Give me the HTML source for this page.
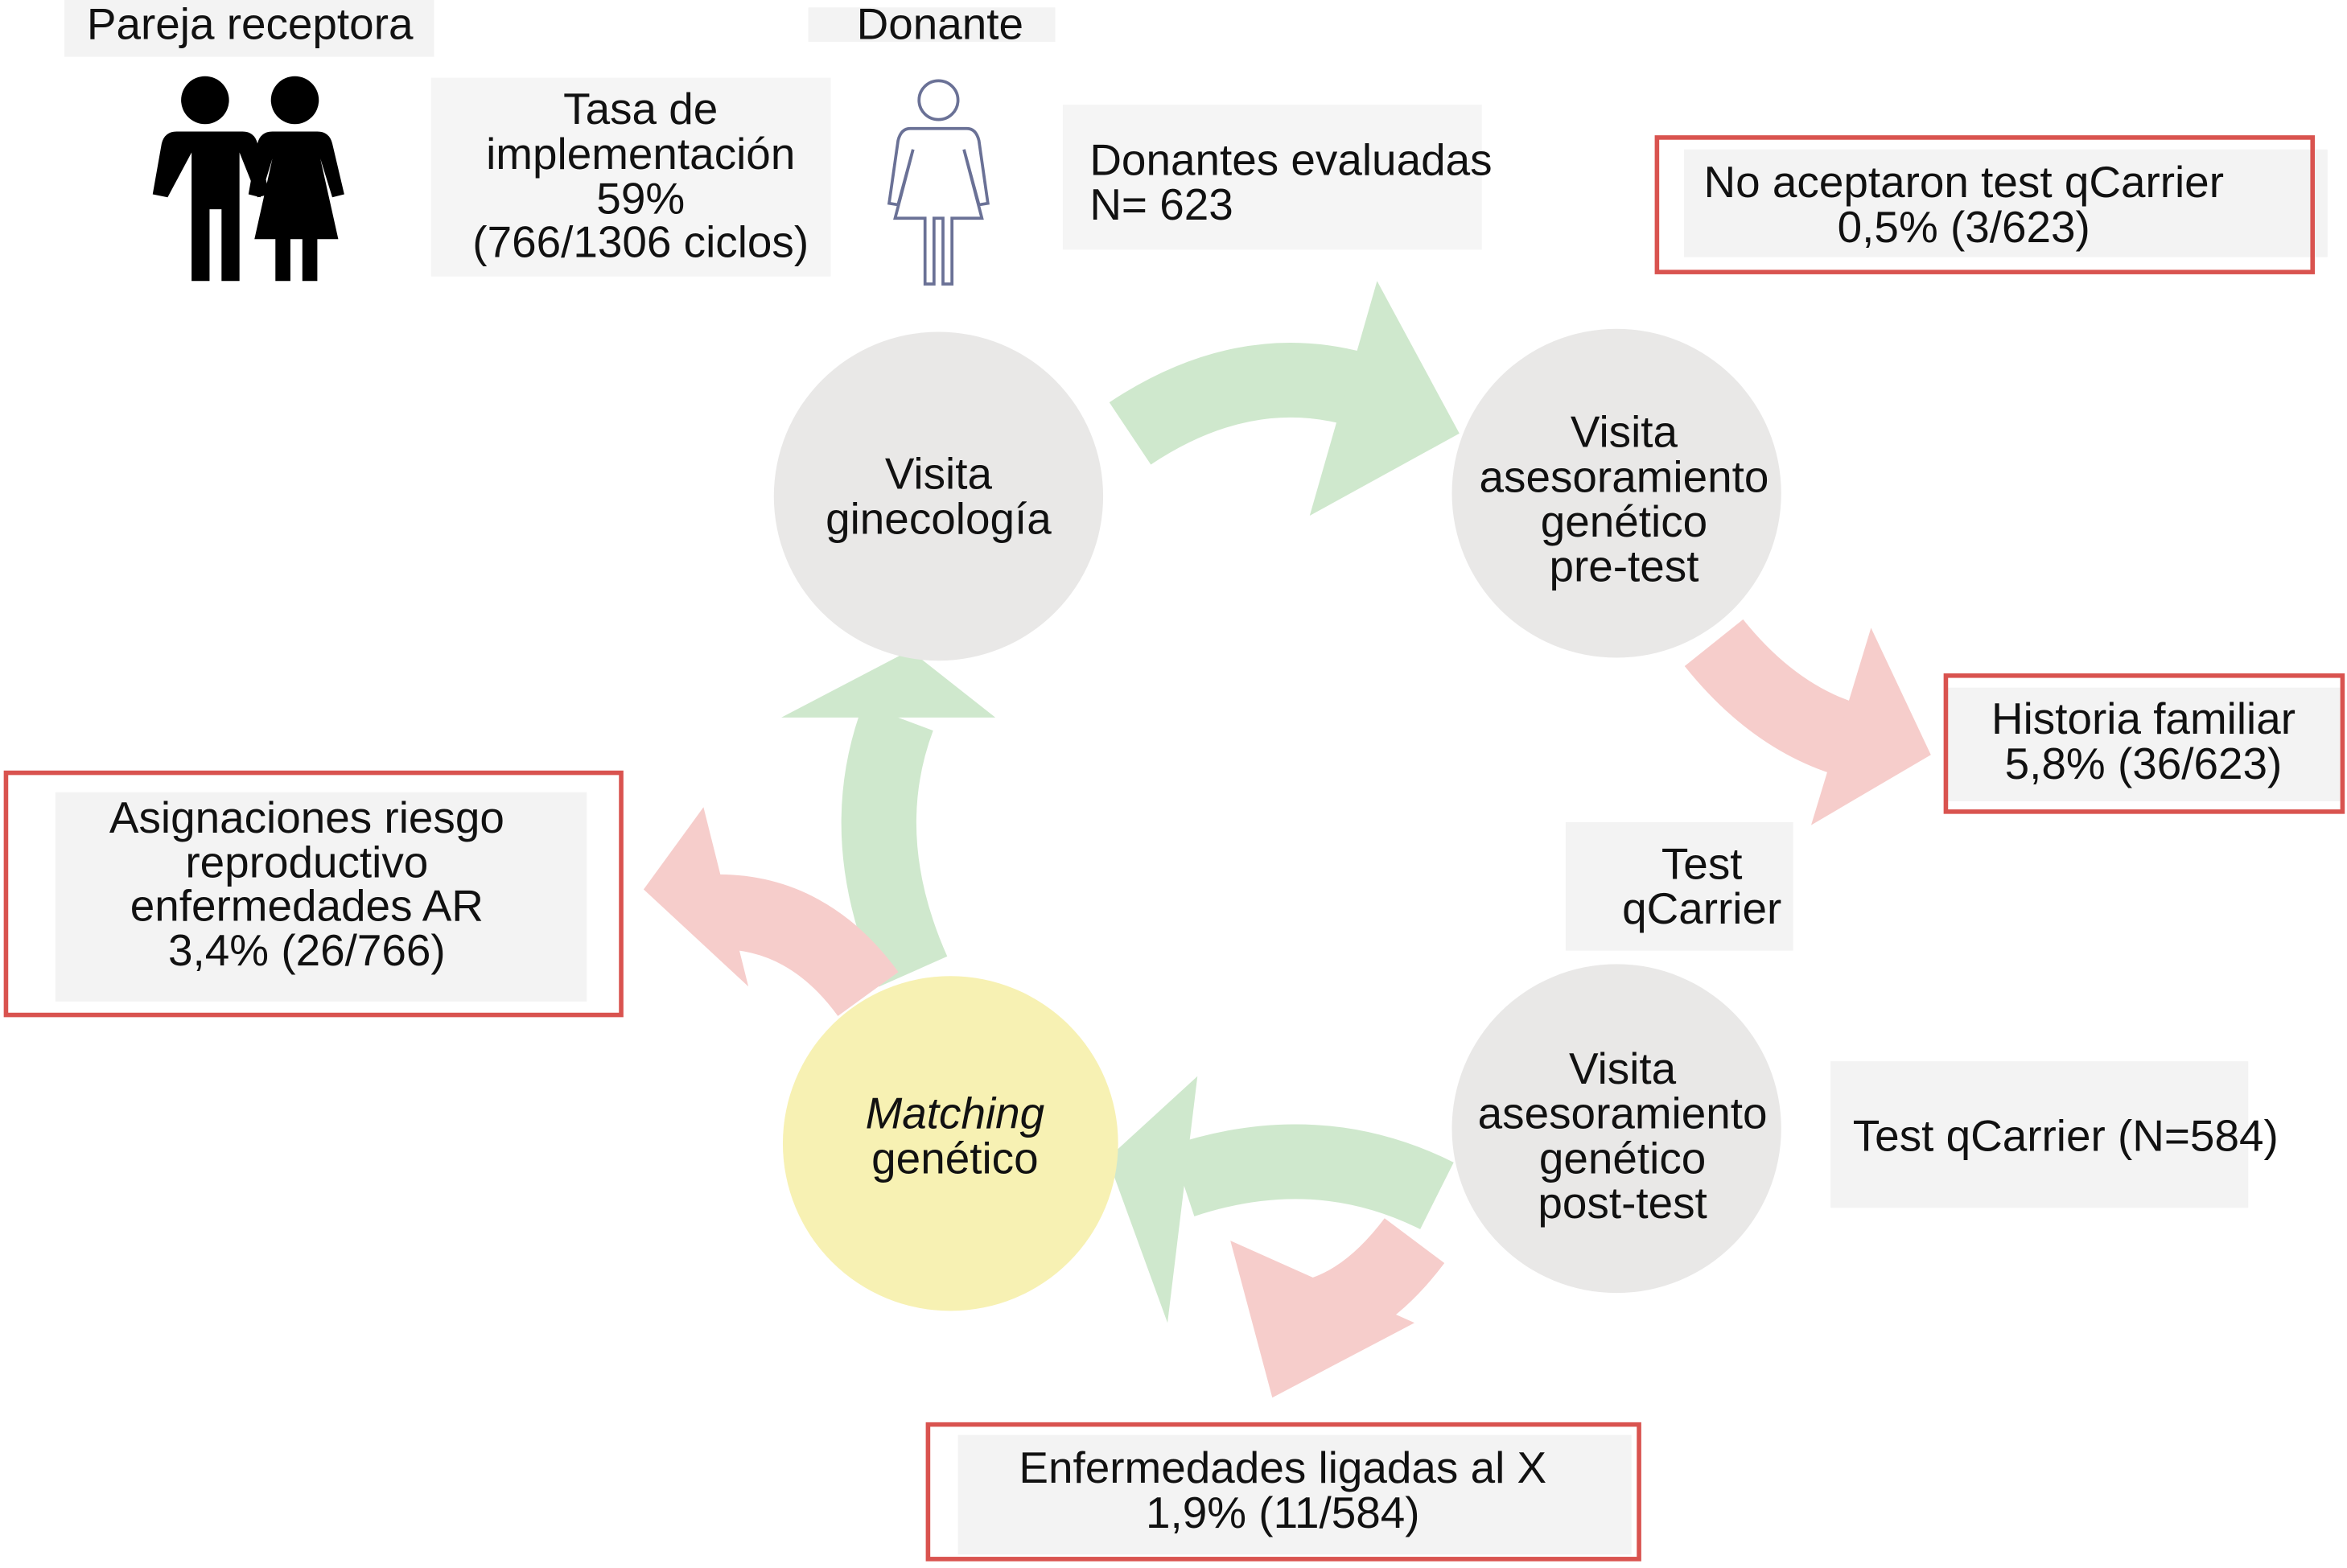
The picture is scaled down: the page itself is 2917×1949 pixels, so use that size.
<!DOCTYPE html>
<html><head><meta charset="utf-8"><style>
html,body{margin:0;padding:0;background:#fff;}
svg{display:block;}
text{font-family:"Liberation Sans",sans-serif;font-size:29.5px;fill:#111;}
</style></head><body>
<svg width="2917" height="1949" viewBox="0 0 1568 1049" preserveAspectRatio="none" xmlns="http://www.w3.org/2000/svg">
<rect width="1568" height="1049" fill="#fff"/>
<rect x="43" y="0" width="247" height="38" fill="#f3f3f3"/>
<text x="167" y="26" text-anchor="middle">Pareja receptora</text>
<rect x="540" y="5" width="165" height="23" fill="#f3f3f3"/>
<text x="628" y="26" text-anchor="middle">Donante</text>
<rect x="288" y="52" width="267" height="133" fill="#f5f5f5"/>
<text text-anchor="middle"><tspan x="428" y="83">Tasa de</tspan><tspan x="428" y="113">implementación</tspan><tspan x="428" y="143">59%</tspan><tspan x="428" y="172">(766/1306 ciclos)</tspan></text>
<rect x="710" y="70" width="280" height="97" fill="#f5f5f5"/>
<text><tspan x="728" y="117">Donantes evaluadas</tspan><tspan x="728" y="147">N= 623</tspan></text>
<g fill="#000">
<circle cx="137" cy="67" r="16"/><circle cx="197" cy="67" r="16"/>
<path d="M112 88 H162 Q170 88 172 96 L180 130 L172 132 L160 102 V188 H148 V140 H140 V188 H128 V102 L112 132 L102 130 L108 96 Q110 88 118 88Z"/>
<path d="M182 88 H212 Q220 88 222 96 L230 130 L222 132 L214 106 L226 160 H212 V188 H202 V160 H194 V188 H184 V160 H170 L182 106 L174 132 L166 130 L172 96 Q174 88 182 88Z"/>
</g>
<g fill="none" stroke="#6a7196" stroke-width="2">
<circle cx="627" cy="67" r="13"/>
<path d="M608 86 H646 Q652 86 654 94 L660 136 L654 137 L644 100 L656 146 H636 V190 H630 V146 H624 V190 H618 V146 H598 L610 100 L600 137 L594 136 L600 94 Q602 86 608 86Z"/>
</g>
<rect x="1125" y="100" width="430" height="72" fill="#f3f3f3"/>
<rect x="1107" y="92" width="438" height="90" fill="none" stroke="#d9534f" stroke-width="3"/>
<text text-anchor="middle"><tspan x="1312" y="132">No aceptaron test qCarrier</tspan><tspan x="1312" y="162">0,5% (3/623)</tspan></text>
<rect x="1300" y="460" width="265" height="76" fill="#f3f3f3"/>
<rect x="1300" y="452" width="265" height="91" fill="none" stroke="#d9534f" stroke-width="3"/>
<text text-anchor="middle"><tspan x="1432" y="491">Historia familiar</tspan><tspan x="1432" y="521">5,8% (36/623)</tspan></text>
<rect x="1046" y="550" width="152" height="86" fill="#f3f3f3"/>
<text text-anchor="middle"><tspan x="1137" y="588">Test</tspan><tspan x="1137" y="618">qCarrier</tspan></text>
<rect x="1223" y="710" width="279" height="98" fill="#f3f3f3"/>
<text x="1380" y="770" text-anchor="middle">Test qCarrier (N=584)</text>
<rect x="37" y="530" width="355" height="140" fill="#f3f3f3"/>
<rect x="4" y="517" width="411" height="162" fill="none" stroke="#d9534f" stroke-width="3"/>
<text text-anchor="middle"><tspan x="205" y="557">Asignaciones riesgo</tspan><tspan x="205" y="587">reproductivo</tspan><tspan x="205" y="616">enfermedades AR</tspan><tspan x="205" y="646">3,4% (26/766)</tspan></text>
<rect x="640" y="960" width="450" height="80" fill="#f3f3f3"/>
<rect x="620" y="953" width="475" height="90" fill="none" stroke="#d9534f" stroke-width="3"/>
<text text-anchor="middle"><tspan x="857" y="992">Enfermedades ligadas al X</tspan><tspan x="857" y="1022">1,9% (11/584)</tspan></text>
<g fill="none" stroke-width="50">
<path d="M755 290 Q830 240 905 260" stroke="#cfe8cd"/>
<path d="M1145 430 Q1185 480 1235 495" stroke="#f6cdcb"/>
<path d="M960 800 Q880 760 790 790" stroke="#cfe8cd"/>
<path d="M945 830 Q915 870 880 880" stroke="#f6cdcb"/>
<path d="M610 650 Q570 560 600 480" stroke="#cfe8cd"/>
<path d="M580 665 Q540 610 480 610" stroke="#f6cdcb"/>
</g>
<g>
<polygon points="920,188 975,290 875,345" fill="#cfe8cd"/>
<polygon points="1250,420 1290,505 1210,552" fill="#f6cdcb"/>
<polygon points="800,720 740,775 780,885" fill="#cfe8cd"/>
<polygon points="945,885 850,935 822,830" fill="#f6cdcb"/>
<polygon points="522,480 608,435 665,480" fill="#cfe8cd"/>
<polygon points="470,540 430,595 500,660" fill="#f6cdcb"/>
</g>
<circle cx="627" cy="332" r="110" fill="#e9e8e7"/>
<text text-anchor="middle"><tspan x="627" y="327">Visita</tspan><tspan x="627" y="357">ginecología</tspan></text>
<circle cx="1080" cy="330" r="110" fill="#e9e8e7"/>
<text text-anchor="middle"><tspan x="1085" y="299">Visita</tspan><tspan x="1085" y="329">asesoramiento</tspan><tspan x="1085" y="359">genético</tspan><tspan x="1085" y="389">pre-test</tspan></text>
<circle cx="1080" cy="755" r="110" fill="#e9e8e7"/>
<text text-anchor="middle"><tspan x="1084" y="725">Visita</tspan><tspan x="1084" y="755">asesoramiento</tspan><tspan x="1084" y="785">genético</tspan><tspan x="1084" y="815">post-test</tspan></text>
<circle cx="635" cy="765" r="112" fill="#f7f1b3"/>
<text text-anchor="middle"><tspan x="638" y="755" font-style="italic">Matching</tspan><tspan x="638" y="785">genético</tspan></text>
</svg>
</body></html>
